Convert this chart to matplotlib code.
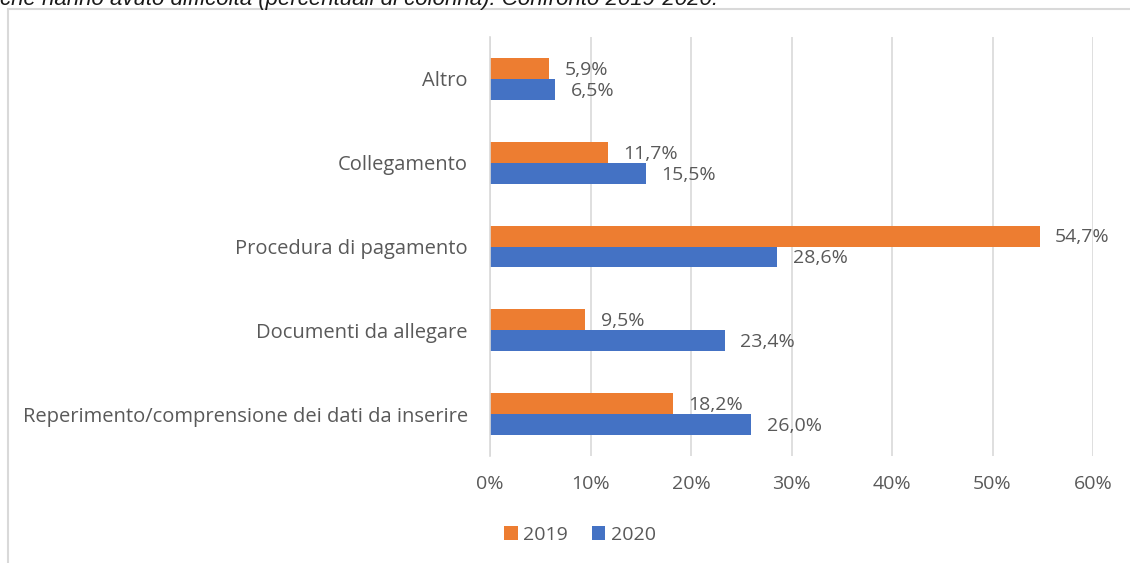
import matplotlib.pyplot as plt
import numpy as np
from matplotlib.patches import Rectangle

# dati
categorie = ['Reperimento/comprensione dei dati da inserire', 'Documenti da allegare',
             'Procedura di pagamento', 'Collegamento', 'Altro']
val_2019 = [18.2, 9.5, 54.7, 11.7, 5.9]
val_2020 = [26.0, 23.4, 28.6, 15.5, 6.5]
etichette_x = ['0%', '10%', '20%', '30%', '40%', '50%', '60%']

col_2019 = '#ED7D31'
col_2020 = '#4472C4'
grigio = '#595959'

plt.rcParams['font.family'] = ['Open Sans', 'DejaVu Sans']

fig = plt.figure(figsize=(11.3, 5.63), dpi=100)
ax = fig.add_axes([490/1130, 1 - 456/563, (1093 - 490)/1130, (456 - 37)/563])

# cornice del grafico (tagliata a destra e in basso)
fig.patches.append(Rectangle((8/1130, -0.1), 1.2, 1 - 9/563 + 0.1, transform=fig.transFigure,
                             fill=False, edgecolor='#D9D9D9', linewidth=1.5))

# titolo tagliato in alto
fig.text(0, 1 - 5/563, 'che hanno avuto difficoltà (percentuali di colonna). Confronto 2019-2020.',
         fontsize=16, style='italic', color='#1a1a1a', family='Liberation Sans',
         ha='left', va='baseline')

y = np.arange(len(categorie))
h = 0.25
b19 = ax.barh(y + h/2, val_2019, h, color=col_2019, label='2019')
b20 = ax.barh(y - h/2, val_2020, h, color=col_2020, label='2020')

for bars, vals in [(b19, val_2019), (b20, val_2020)]:
    for bar, v in zip(bars, vals):
        ax.annotate(f'{v:.1f}%'.replace('.', ','),
                    (bar.get_width(), bar.get_y() + bar.get_height()/2),
                    xytext=(11, -1), textcoords='offset points', ha='left', va='center',
                    fontsize=14, color=grigio)

ax.set_xlim(0, 60)
ax.set_ylim(-0.5, len(categorie) - 0.5)
ax.set_xticks(np.arange(0, 61, 10))
ax.set_xticklabels(etichette_x)
ax.set_yticks(y)
ax.set_yticklabels(categorie)
ax.tick_params(axis='x', length=0, pad=14, labelsize=14, labelcolor=grigio)
ax.tick_params(axis='y', length=0, pad=16, labelsize=14.5, labelcolor=grigio)

ax.grid(axis='x', color='#D9D9D9', linewidth=1.2)
ax.set_axisbelow(True)
for s in ['top', 'right', 'bottom']:
    ax.spines[s].set_visible(False)
ax.spines['left'].set_color('#D9D9D9')
ax.spines['left'].set_linewidth(1.2)

ax.legend(loc='center', bbox_to_anchor=(580/1130, 1 - 535/563), bbox_transform=fig.transFigure,
          ncol=2, frameon=False, fontsize=14, labelcolor=grigio,
          handlelength=0.7, handleheight=0.7, handletextpad=0.3, columnspacing=1.2)

fig.savefig('out.png', dpi=100, facecolor='white')
